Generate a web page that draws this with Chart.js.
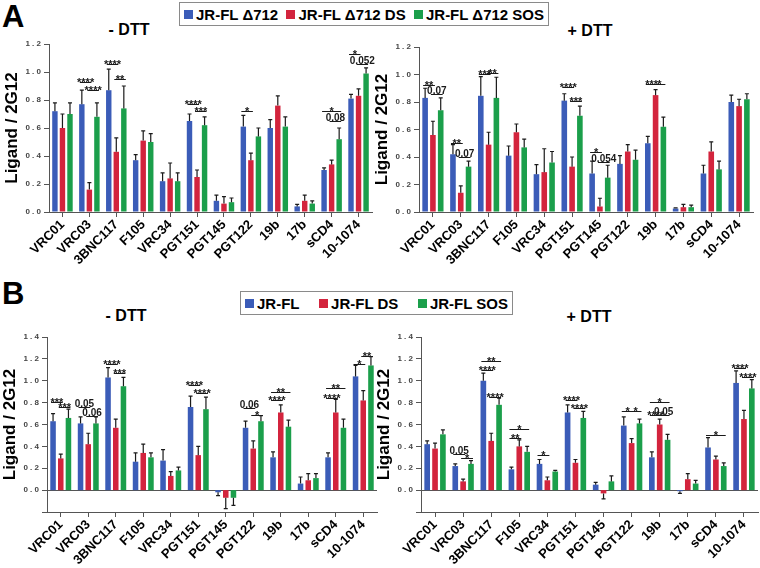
<!DOCTYPE html>
<html>
<head>
<meta charset="utf-8">
<script src="https://cdn.jsdelivr.net/npm/chart.js@4"></script>
<style>
body { margin: 0; width: 760px; height: 568px; background: #fff; position: relative; overflow: hidden; font-family: "Liberation Sans", Arial, sans-serif; }
canvas { position: absolute; }
.letter { position: absolute; font-weight: bold; font-size: 31px; line-height: 1; }
.title { position: absolute; font-weight: bold; font-size: 16px; line-height: 1; transform: translateX(-50%); white-space: nowrap; }
.legend { position: absolute; border: 1px solid #8a8a8a; display: flex; align-items: center; font-weight: bold; font-size: 15px; height: 24px; box-sizing: border-box; padding: 0 4px; white-space: nowrap; }
.legend .sw { display: inline-block; width: 9px; height: 9px; margin-right: 3px; }
.legend .it { display: flex; align-items: center; }
</style>
</head>
<body>
<div class="letter" style="left:2px; top:1px;">A</div>
<div class="letter" style="left:2px; top:278px;">B</div>

<div class="legend" id="legendA" style="left:179px; top:2px; width:370px; justify-content:space-between;"></div>
<div class="legend" id="legendB" style="left:240px; top:291px; width:273px; justify-content:space-between;"></div>

<div class="title" style="left:129px; top:22px;">- DTT</div>
<div class="title" style="left:590px; top:23px;">+ DTT</div>
<div class="title" style="left:126px; top:308px;">- DTT</div>
<div class="title" style="left:589px; top:309px;">+ DTT</div>

<canvas id="aNo" width="378" height="240" style="left:0px; top:36px;"></canvas>
<canvas id="aDt" width="388" height="240" style="left:370px; top:36px;"></canvas>
<canvas id="bNo" width="382" height="243" style="left:-2px; top:325px;"></canvas>
<canvas id="bDt" width="388" height="243" style="left:372px; top:325px;"></canvas>

<script>
// categories and series
const categories = ['VRC01', 'VRC03', '3BNC117', 'F105', 'VRC34', 'PGT151', 'PGT145', 'PGT122', '19b', '17b', 'sCD4', '10-1074'];
const namesA = ['JR-FL Δ712', 'JR-FL Δ712 DS', 'JR-FL Δ712 SOS'];
const namesB = ['JR-FL', 'JR-FL DS', 'JR-FL SOS'];
const colors = ['#3b5cb8', '#d3243d', '#1b9f4b'];

// A, - DTT
const aNoWT = [0.72, 0.77, 0.87, 0.37, 0.22, 0.65, 0.08, 0.61, 0.60, 0.04, 0.30, 0.81];
const aNoWTErr = [0.06, 0.10, 0.15, 0.04, 0.06, 0.05, 0.04, 0.08, 0.06, 0.015, 0.015, 0.03];
const aNoDS = [0.60, 0.16, 0.43, 0.51, 0.24, 0.25, 0.06, 0.37, 0.76, 0.08, 0.34, 0.83];
const aNoDSErr = [0.10, 0.05, 0.10, 0.07, 0.11, 0.05, 0.05, 0.05, 0.07, 0.04, 0.03, 0.05];
const aNoSOS = [0.70, 0.68, 0.74, 0.50, 0.22, 0.62, 0.07, 0.54, 0.61, 0.06, 0.52, 0.99];
const aNoSOSErr = [0.08, 0.10, 0.16, 0.06, 0.06, 0.06, 0.03, 0.06, 0.07, 0.02, 0.08, 0.04];

// A, + DTT
const aDtWT = [0.83, 0.42, 0.845, 0.41, 0.275, 0.81, 0.28, 0.35, 0.50, 0.025, 0.28, 0.80];
const aDtWTErr = [0.07, 0.07, 0.14, 0.07, 0.07, 0.05, 0.09, 0.06, 0.05, 0.005, 0.06, 0.05];
const aDtDS = [0.56, 0.14, 0.49, 0.58, 0.29, 0.33, 0.04, 0.44, 0.85, 0.035, 0.44, 0.77];
const aDtDSErr = [0.10, 0.05, 0.09, 0.06, 0.17, 0.07, 0.06, 0.05, 0.04, 0.02, 0.07, 0.05];
const aDtSOS = [0.74, 0.33, 0.83, 0.47, 0.36, 0.70, 0.25, 0.38, 0.62, 0.035, 0.31, 0.82];
const aDtSOSErr = [0.09, 0.04, 0.15, 0.06, 0.08, 0.07, 0.09, 0.07, 0.07, 0.015, 0.06, 0.04];

// B, - DTT
const bNoWT = [0.63, 0.61, 1.03, 0.26, 0.27, 0.76, -0.02, 0.57, 0.30, 0.06, 0.30, 1.04];
const bNoWTErr = [0.07, 0.06, 0.09, 0.08, 0.10, 0.10, 0.03, 0.06, 0.05, 0.06, 0.04, 0.10];
const bNoDS = [0.29, 0.42, 0.57, 0.34, 0.13, 0.32, -0.07, 0.38, 0.71, 0.09, 0.71, 0.82];
const bNoDSErr = [0.04, 0.10, 0.08, 0.08, 0.04, 0.08, 0.10, 0.07, 0.07, 0.06, 0.12, 0.09];
const bNoSOS = [0.66, 0.61, 0.95, 0.30, 0.18, 0.74, -0.07, 0.63, 0.58, 0.11, 0.57, 1.14];
const bNoSOSErr = [0.08, 0.06, 0.08, 0.04, 0.03, 0.11, 0.07, 0.05, 0.06, 0.04, 0.08, 0.08];

// B, + DTT
const bDtWT = [0.42, 0.22, 1.00, 0.19, 0.24, 0.71, 0.05, 0.59, 0.30, -0.01, 0.39, 0.98];
const bDtWTErr = [0.03, 0.02, 0.07, 0.02, 0.04, 0.07, 0.02, 0.08, 0.05, 0.02, 0.09, 0.11];
const bDtDS = [0.38, 0.08, 0.45, 0.40, 0.09, 0.25, -0.03, 0.43, 0.60, 0.10, 0.28, 0.65];
const bDtDSErr = [0.05, 0.02, 0.07, 0.06, 0.03, 0.03, 0.05, 0.04, 0.05, 0.05, 0.03, 0.08];
const bDtSOS = [0.51, 0.24, 0.78, 0.35, 0.17, 0.66, 0.08, 0.61, 0.46, 0.06, 0.22, 0.93];
const bDtSOSErr = [0.04, 0.03, 0.06, 0.05, 0.01, 0.06, 0.05, 0.04, 0.05, 0.03, 0.03, 0.08];

// significance marks: [category, from series, to series, value, label]
const aNoSig = [[1,0,1,0.93,'****'], [1,1,2,0.87,'****'], [2,0,1,1.06,'****'], [2,1,2,0.95,'**'],
  [5,0,1,0.77,'****'], [5,1,2,0.72,'***'], [7,0,1,0.72,'*'], [10,0,2,0.72,'*'], [10,1,2,0.65,'0.08'],
  [11,0,1,1.13,'*'], [11,1,2,1.06,'0.052']];
const aDtSig = [[0,0,1,0.92,'**'], [0,1,2,0.86,'0.07'], [1,0,1,0.50,'**'], [1,1,2,0.40,'0.07'],
  [2,0,1,1.00,'***'], [2,1,2,1.01,'**'], [5,0,1,0.91,'****'], [5,1,2,0.81,'***'],
  [6,0,1,0.44,'*'], [6,1,2,0.36,'0.054'], [8,0,1,0.93,'***'], [8,1,2,0.93,'*']];
const bNoSig = [[0,0,1,0.81,'***'], [0,1,2,0.76,'***'], [1,0,1,0.76,'0.05'], [1,1,2,0.68,'0.06'],
  [2,0,1,1.15,'****'], [2,1,2,1.07,'***'], [5,0,1,0.96,'****'], [5,1,2,0.89,'****'],
  [7,0,1,0.75,'0.06'], [7,1,2,0.69,'*'], [8,0,2,0.90,'**'], [8,0,1,0.82,'****'],
  [10,0,2,0.93,'**'], [10,0,1,0.84,'****'], [11,0,1,1.15,'*'], [11,1,2,1.23,'**']];
const bDtSig = [[1,0,1,0.33,'0.05'], [1,1,2,0.29,'*'], [2,0,2,1.18,'**'], [2,0,1,1.10,'****'],
  [2,1,2,0.85,'****'], [3,0,2,0.56,'*'], [3,0,1,0.48,'**'], [4,0,1,0.32,'*'],
  [5,0,1,0.82,'****'], [5,1,2,0.75,'****'], [7,0,1,0.72,'*'], [7,1,2,0.72,'*'],
  [8,0,2,0.81,'*'], [8,0,1,0.69,'****'], [8,1,2,0.69,'0.05'], [10,0,2,0.50,'*'],
  [11,0,1,1.12,'****'], [11,1,2,1.03,'****']];

const FONT = '"Liberation Sans", Arial, sans-serif';

// legends
function fillLegend(id, names) {
    const el = document.getElementById(id);
    names.forEach((n, i) => {
        const it = document.createElement('span');
        it.className = 'it';
        it.innerHTML = '<span class="sw" style="background:' + colors[i] + '"></span>' + n;
        el.appendChild(it);
    });
}
fillLegend('legendA', namesA);
fillLegend('legendB', namesB);

// error bars and significance lines, drawn through the y scale
function marksPlugin(sig) {
    return {
        id: 'marks',
        afterDatasetsDraw(chart) {
            const ctx = chart.ctx, ys = chart.scales.y;
            ctx.save();
            ctx.strokeStyle = '#1a1a1a';
            ctx.fillStyle = '#1a1a1a';
            ctx.lineWidth = 1.2;
            chart.data.datasets.forEach((ds, i) => {
                chart.getDatasetMeta(i).data.forEach((bar, j) => {
                    const v = ds.data[j], e = ds.err[j];
                    const y0 = ys.getPixelForValue(v);
                    const y1 = ys.getPixelForValue(v >= 0 ? v + e : v - e);
                    ctx.beginPath();
                    ctx.moveTo(bar.x, y0);
                    ctx.lineTo(bar.x, y1);
                    ctx.moveTo(bar.x - 2, y1);
                    ctx.lineTo(bar.x + 2, y1);
                    ctx.stroke();
                });
            });
            ctx.lineWidth = 1;
            ctx.textAlign = 'center';
            ctx.textBaseline = 'alphabetic';
            sig.forEach(([g, a, b, val, label]) => {
                const xa = chart.getDatasetMeta(a).data[g].x;
                const xb = chart.getDatasetMeta(b).data[g].x;
                const yy = Math.round(ys.getPixelForValue(val)) + 0.5;
                ctx.beginPath();
                ctx.moveTo(xa - 2, yy);
                ctx.lineTo(xb + 2, yy);
                ctx.stroke();
                const star = label[0] === '*';
                ctx.font = 'bold ' + (star ? 11 : 10) + 'px ' + FONT;
                ctx.fillText(label, (xa + xb) / 2, star ? yy + 3.5 : yy - 1);
            });
            ctx.restore();
        }
    };
}

function buildChart(id, names, vals, errs, sig, yMin, yMax, yW, xH, pad) {
    new Chart(document.getElementById(id), {
        type: 'bar',
        data: {
            labels: categories,
            datasets: vals.map((v, i) => ({
                label: names[i],
                data: v,
                err: errs[i],
                backgroundColor: colors[i],
                barPercentage: 0.72,
                categoryPercentage: 0.84
            }))
        },
        options: {
            responsive: false,
            animation: false,
            layout: { padding: pad },
            plugins: { legend: { display: false }, tooltip: { enabled: false } },
            scales: {
                x: {
                    grid: { drawOnChartArea: false, offset: false, tickLength: 5, tickColor: '#555' },
                    border: { color: '#555' },
                    ticks: { minRotation: 45, maxRotation: 45, autoSkip: false, padding: 0, color: '#000',
                             font: { family: FONT, weight: 'bold', size: 13 } },
                    afterFit: s => { s.height = xH; }
                },
                y: {
                    min: yMin,
                    max: yMax,
                    ticks: {
                        stepSize: 0.2,
                        padding: 3,
                        color: '#444',
                        font: { family: FONT, weight: 'bold', size: 8 },
                        callback: v => v < -0.01 ? '' : Math.abs(v).toFixed(1).split('').join(' ')
                    },
                    grid: {
                        drawOnChartArea: yMin < 0,
                        color: c => (c.tick && Math.abs(c.tick.value) < 1e-9) ? '#555' : 'rgba(0,0,0,0)',
                        tickLength: 5,
                        tickColor: '#555'
                    },
                    border: { color: '#555' },
                    title: { display: true, text: 'Ligand / 2G12', color: '#000', padding: { top: 2, bottom: 0 },
                             font: { family: FONT, weight: 'bold', size: 17 } },
                    afterFit: s => { s.width = yW; }
                }
            }
        },
        plugins: [marksPlugin(sig)]
    });
}

buildChart('aNo', namesA, [aNoWT, aNoDS, aNoSOS], [aNoWTErr, aNoDSErr, aNoSOSErr], aNoSig, 0, 1.2, 49, 64,
    { top: 8, right: 6, left: 0, bottom: 0 });
buildChart('aDt', namesA, [aDtWT, aDtDS, aDtSOS], [aDtWTErr, aDtDSErr, aDtSOSErr], aDtSig, 0, 1.2, 49, 64,
    { top: 11, right: 5, left: 0, bottom: 0 });
buildChart('bNo', namesB, [bNoWT, bNoDS, bNoSOS], [bNoWTErr, bNoDSErr, bNoSOSErr], bNoSig, -0.2, 1.4, 49, 56,
    { top: 12, right: 3, left: 0, bottom: 0 });
buildChart('bDt', namesB, [bDtWT, bDtDS, bDtSOS], [bDtWTErr, bDtDSErr, bDtSOSErr], bDtSig, -0.2, 1.4, 49, 56,
    { top: 12, right: 2, left: 0, bottom: 0 });
</script>
</body>
</html>
